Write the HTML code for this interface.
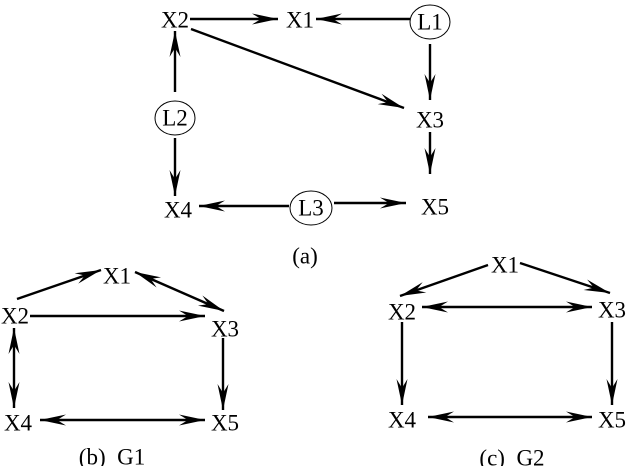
<!DOCTYPE html>
<html><head><meta charset="utf-8"><style>
html,body{margin:0;padding:0;background:#fff}
svg{display:block}
text{font-family:"Liberation Serif",serif;font-size:23px;fill:#000;text-anchor:middle;dominant-baseline:central;white-space:pre}
line{stroke:#000;stroke-width:2.4}
</style></head><body>
<svg id="s" width="626" height="466" viewBox="0 0 626 466">
<!-- (a) -->
<text x="175" y="20">X2</text>
<text x="300" y="20">X1</text>
<ellipse cx="430" cy="22" rx="20" ry="17" fill="none" stroke="#000" stroke-width="1"/>
<text x="430" y="22">L1</text>
<text x="430" y="120">X3</text>
<text x="435" y="207">X5</text>
<ellipse cx="175" cy="118" rx="20" ry="17" fill="none" stroke="#000" stroke-width="1"/>
<text x="175" y="118">L2</text>
<text x="178" y="210">X4</text>
<ellipse cx="311" cy="208" rx="21" ry="17" fill="none" stroke="#000" stroke-width="1"/>
<text x="311" y="208">L3</text>
<text x="305" y="256">(a)</text>
<!-- G1 -->
<text x="117" y="276">X1</text>
<text x="15" y="316">X2</text>
<text x="225" y="329">X3</text>
<text x="18" y="423">X4</text>
<text x="225" y="423">X5</text>
<text x="112" y="457">(b)&#160;&#160;G1</text>
<!-- G2 -->
<text x="505" y="265">X1</text>
<text x="402" y="312">X2</text>
<text x="612" y="310">X3</text>
<text x="402" y="420">X4</text>
<text x="612" y="420">X5</text>
<text x="512" y="458">(c)&#160;&#160;G2</text>
</svg>
<script>
var L=[
[190,19,278,19,0],[410,19,316,19,0],[430,44,430,100,0],[430,132,430,174,0],
[191,29,404,108,0],[175,92,175,31,0],[175,138,175,196,0],[289,206,199,206,0],[334,203,406,203,0],
[17,299,101,270,0],[135,272,224,311,1],[30,316,205,316,0],[14,328,14,408,1],[223,338,223,410,0],[40,420,205,420,1],
[488,265,400,296,0],[520,263,610,293,0],[422,307,592,307,1],[402,322,402,405,0],[612,322,612,405,0],[428,417,592,417,1]];
var s=document.getElementById('s'),N='http://www.w3.org/2000/svg';
function head(x,y,dx,dy){var l=Math.hypot(dx,dy),ux=dx/l,uy=dy/l,px=-uy,py=ux;
var a=26,w=5.5,n=17;
var p=document.createElementNS(N,'polygon');
p.setAttribute('points',[x,y,x-ux*a+px*w,y-uy*a+py*w,x-ux*n,y-uy*n,x-ux*a-px*w,y-uy*a-py*w].join(' '));
p.setAttribute('fill','#000');s.appendChild(p);}
L.forEach(function(e){var ln=document.createElementNS(N,'line');
ln.setAttribute('x1',e[0]);ln.setAttribute('y1',e[1]);ln.setAttribute('x2',e[2]);ln.setAttribute('y2',e[3]);s.appendChild(ln);
head(e[2],e[3],e[2]-e[0],e[3]-e[1]);if(e[4])head(e[0],e[1],e[0]-e[2],e[1]-e[3]);});
</script>
</body></html>
